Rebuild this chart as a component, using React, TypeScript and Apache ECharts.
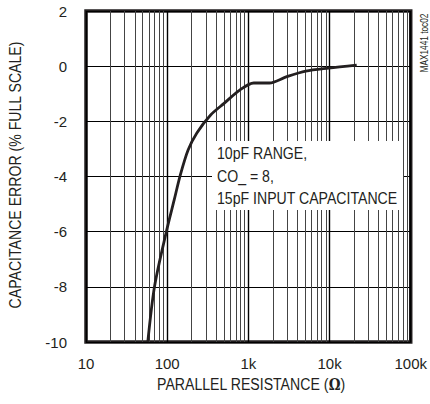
import React, { useEffect, useRef } from "react";
import * as echarts from "echarts";

// Parallel resistance (ohms) and capacitance error (% full scale)
const resistance = [57.7, 70, 98, 122, 145, 181, 232, 343, 506, 789, 1165, 1820, 2917, 5090, 9660, 21600];
const capError = [-10, -7.97, -5.98, -4.85, -3.95, -3.04, -2.42, -1.77, -1.34, -0.86, -0.61, -0.61, -0.39, -0.18, -0.07, 0.04];

// Minor (2..9 per decade) grid positions on the log axis
const minorTicks = [
  20, 30, 40, 50, 60, 70, 80, 90,
  200, 300, 400, 500, 600, 700, 800, 900,
  2000, 3000, 4000, 5000, 6000, 7000, 8000, 9000,
  20000, 30000, 40000, 50000, 60000, 70000, 80000, 90000,
];

const xTitle = "PARALLEL RESISTANCE ({o|Ω})";
const yTitle = "CAPACITANCE ERROR (% FULL SCALE)";
const noteLines = ["10pF RANGE,", "CO_ = 8,", "15pF INPUT CAPACITANCE"];
const tocLabel = "MAX1441 toc02";

const FONT = "'Liberation Sans', Arial, sans-serif";
const INK = "#231f20";
const NARROW = 0.83;

export default function App() {
  const ref = useRef<HTMLDivElement>(null);

  useEffect(() => {
    if (!ref.current) return;
    const chart = echarts.init(ref.current, undefined, { renderer: "svg" });
    const data = resistance.map((r, i) => [r, capError[i]]);

    chart.setOption({
      animation: false,
      textStyle: { fontFamily: FONT, color: INK },
      grid: {
        left: 86,
        top: 11,
        right: 13,
        bottom: 62,
        show: true,
        borderColor: INK,
        borderWidth: 3.5,
        backgroundColor: "#fff",
      },
      xAxis: {
        type: "log",
        logBase: 10,
        min: 10,
        max: 100000,
        axisLine: { show: false },
        axisTick: { show: false },
        axisLabel: {
          fontFamily: FONT,
          fontSize: 15,
          color: INK,
          margin: 14,
          formatter: (v: number) => {
            const r = Math.round(v);
            return r >= 1000 ? `${Math.round(r / 1000)}k` : `${r}`;
          },
        },
        splitLine: { show: true, lineStyle: { color: "#000", width: 1.4 } },
      },
      yAxis: {
        type: "value",
        min: -10,
        max: 2,
        interval: 2,
        axisLine: { show: false },
        axisTick: { show: false },
        axisLabel: { fontFamily: FONT, fontSize: 15, color: INK, margin: 19 },
        splitLine: { show: true, lineStyle: { color: "#000", width: 1.2 } },
      },
      series: [
        {
          type: "line",
          data,
          symbol: "none",
          smooth: 0.3,
          z: 5,
          lineStyle: { color: INK, width: 2.8 },
          markLine: {
            silent: true,
            symbol: ["none", "none"],
            label: { show: false },
            lineStyle: { color: "#444", width: 1, type: "solid" },
            z: 1,
            data: minorTicks.map((v) => ({ xAxis: v })),
          },
        },
      ],
      graphic: [
        {
          type: "rect",
          z: 50,
          shape: { x: 212, y: 141, width: 191, height: 69 },
          style: { fill: "#fff" },
        },
        ...noteLines.map((t, i) => ({
          type: "text",
          z: 51,
          x: 217,
          y: 153.5 + i * 22.5,
          scaleX: NARROW,
          style: {
            text: t,
            fontFamily: FONT,
            fontSize: 17,
            fill: INK,
            align: "left",
            verticalAlign: "middle",
          },
        })),
        {
          type: "text",
          z: 51,
          x: 251,
          y: 384,
          scaleX: NARROW,
          style: {
            text: xTitle,
            fontFamily: FONT,
            fontSize: 17,
            fill: INK,
            align: "center",
            verticalAlign: "middle",
            rich: {
              o: { fontFamily: "'DejaVu Serif', serif", fontWeight: "bold", fontSize: 16, fill: INK },
            },
          },
        },
        {
          type: "text",
          z: 51,
          x: 15,
          y: 175,
          rotation: Math.PI / 2,
          scaleX: NARROW,
          style: {
            text: yTitle,
            fontFamily: FONT,
            fontSize: 17,
            fill: INK,
            align: "center",
            verticalAlign: "middle",
          },
        },
        {
          type: "text",
          z: 51,
          x: 425,
          y: 43,
          rotation: Math.PI / 2,
          scaleX: NARROW,
          style: {
            text: tocLabel,
            fontFamily: FONT,
            fontSize: 10,
            fill: INK,
            align: "center",
            verticalAlign: "middle",
          },
        },
      ],
    });

    return () => chart.dispose();
  }, []);

  return (
    <div
      ref={ref}
      style={{ position: "absolute", left: 0, top: 0, width: 430, height: 404 }}
    />
  );
}
